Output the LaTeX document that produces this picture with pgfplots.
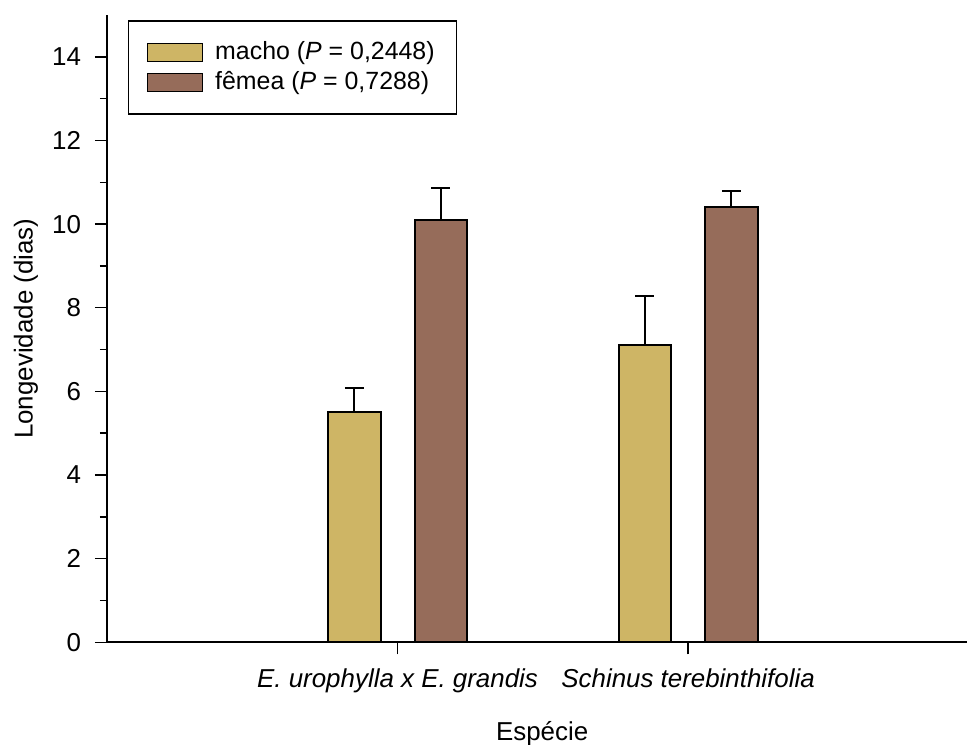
\documentclass[border=0pt]{standalone}
\usepackage{pgfplots}
\pgfplotsset{compat=1.18}
\usepackage{fontspec}
\setmainfont{Liberation Sans}
\definecolor{macho}{RGB}{206,181,101}
\definecolor{femea}{RGB}{150,108,90}

\begin{document}
\begin{tikzpicture}[font=\fontsize{13}{15}\selectfont]
  \begin{axis}[
      scale only axis,
      width=430bp, height=313.65bp,
      xmin=0, xmax=2.96,
      ymin=0, ymax=15,
      axis x line*=bottom,
      axis y line*=left,
      axis line style={line width=1bp},
      tick align=outside,
      major tick length=6bp,
      minor tick length=3.5bp,
      tick style={black, line width=0.75bp},
      xtick={1,2},
      xticklabels={\textit{E. urophylla x E. grandis}, \textit{Schinus terebinthifolia}},
      ytick={0,2,...,14},
      minor y tick num=1,
      /pgf/number format/assume math mode=true,
      xticklabel style={anchor=base, yshift=-16.5bp},
      yticklabel style={anchor=east, xshift=-3.5bp},
      ylabel={Longevidade (dias)},
      xlabel={Espécie},
      every axis y label/.style={at={(axis description cs:0,0.5)}, xshift=-40.5bp, rotate=90, anchor=center},
      every axis x label/.style={at={(axis description cs:0.506,0)}, yshift=-49bp, anchor=base},
      ybar,
      bar width=0.181,
      legend style={at={(0.0244,0.992)}, anchor=north west, draw=black, line width=0.75bp,
        font=\fontsize{12.5}{15}\selectfont,
        inner xsep=9bp, inner ysep=8.5bp, row sep=0.5bp,
        /tikz/every odd column/.append style={column sep=4bp}},
      legend cell align=left,
      legend image code/.code={\draw[#1, line width=0.75bp] (0bp,-4.5bp) rectangle (27.5bp,4.5bp);},
    ]
    % macho
    \addplot[bar shift=-0.149, fill=macho, draw=black, line width=1bp,
      error bars/.cd, y dir=plus, y explicit,
      error bar style={line width=1bp, black},
      error mark options={rotate=90, line width=1bp, mark size=4.75bp, black}]
      coordinates {(1,5.5) +- (0,0.59) (2,7.1) +- (0,1.18)};
    % femea
    \addplot[bar shift=0.149, fill=femea, draw=black, line width=1bp,
      error bars/.cd, y dir=plus, y explicit,
      error bar style={line width=1bp, black},
      error mark options={rotate=90, line width=1bp, mark size=4.75bp, black}]
      coordinates {(1,10.1) +- (0,0.76) (2,10.4) +- (0,0.40)};
    \addlegendentry{macho (\textit{P} = 0,2448)}
    \addlegendentry{fêmea (\textit{P} = 0,7288)}
  \end{axis}
  \pgfresetboundingbox
  \path (current axis.south west) +(-53.5bp,-51.35bp) (current axis.north east) +(0bp,7.5bp);
\end{tikzpicture}
\end{document}
